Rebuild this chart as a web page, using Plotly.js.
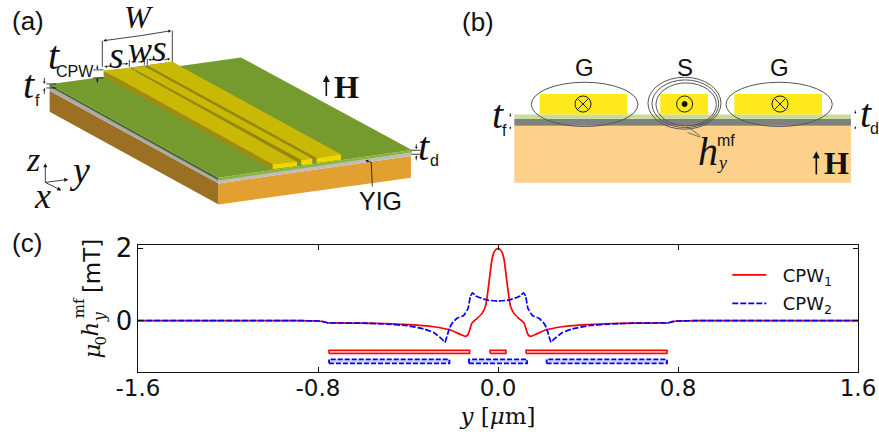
<!DOCTYPE html>
<html><head><meta charset="utf-8">
<script src="https://cdn.plot.ly/plotly-3.0.1.min.js"></script>
<style>html,body{margin:0;padding:0;background:#fff}#c{width:879px;height:435px}</style></head>
<body><div id="c"></div>
<script>
// ---- chart (c) data ----
const cpw1Y = [-1.6,-1.2,-0.9,-0.8,-0.775,-0.753,-0.73,-0.6,-0.508,-0.43,-0.36,-0.286,-0.212,-0.167,-0.145,-0.133,-0.126,-0.116,-0.093,-0.071,-0.056,-0.049,-0.034,-0.027,-0.019,-0.01,0,0.01,0.019,0.027,0.034,0.049,0.056,0.071,0.093,0.116,0.126,0.133,0.145,0.167,0.212,0.286,0.36,0.43,0.508,0.6,0.73,0.753,0.775,0.8,0.9,1.2,1.6];
const cpw1H = [0,0,0,-0.01,-0.03,-0.065,-0.065,-0.07,-0.08,-0.1,-0.125,-0.17,-0.26,-0.38,-0.435,-0.38,-0.26,-0.07,0.06,0.2,0.39,0.62,1.36,1.69,1.87,1.96,1.99,1.96,1.87,1.69,1.36,0.62,0.39,0.2,0.06,-0.07,-0.26,-0.38,-0.435,-0.38,-0.26,-0.17,-0.125,-0.1,-0.08,-0.07,-0.065,-0.065,-0.03,-0.01,0,0,0];
const cpw2Y = [-1.6,-1.2,-0.9,-0.8,-0.775,-0.753,-0.73,-0.6,-0.508,-0.404,-0.33,-0.286,-0.249,-0.236,-0.227,-0.216,-0.204,-0.182,-0.153,-0.133,-0.123,-0.113,-0.1,-0.049,0,0.049,0.1,0.113,0.123,0.133,0.153,0.182,0.204,0.216,0.227,0.236,0.249,0.286,0.33,0.404,0.508,0.6,0.73,0.753,0.775,0.8,0.9,1.2,1.6];
const cpw2H = [0,0,0,-0.01,-0.03,-0.065,-0.065,-0.07,-0.09,-0.14,-0.23,-0.33,-0.51,-0.6,-0.44,-0.21,-0.07,0.065,0.14,0.34,0.67,0.77,0.685,0.57,0.54,0.57,0.685,0.77,0.67,0.34,0.14,0.065,-0.07,-0.21,-0.44,-0.6,-0.51,-0.33,-0.23,-0.14,-0.09,-0.07,-0.065,-0.065,-0.03,-0.01,0,0,0];
// conductor cross sections: [start, end]
const cpw1Left = [-0.751,-0.035,0.125], cpw1Right = [-0.126,0.035,0.751], cpw1Low = -0.91, cpw1High = -0.82;
const cpw2Left = [-0.751,-0.129,0.216], cpw2Right = [-0.216,0.129,0.751], cpw2Low = -1.18, cpw2High = -1.07;
const xTicks = [-1.6,-0.8,0,0.8,1.6], xTickText = ['-1.6','-0.8','0.0','0.8','1.6'];
const yTicks = [0,2], yTickText = ['0','2'];

// ---- plot area in page pixels; schematics are positioned on the page ----
const L=137.7,R=857.7,T=245.3,B=371.7;
const px=x=>(x-L)/(R-L), py=y=>(B-y)/(B-T);
const shapes=[], notes=[];
function poly(pts,fill,line,w){
  const d='M'+pts.map(p=>px(p[0]).toFixed(5)+' '+py(p[1]).toFixed(5)).join('L')+'Z';
  shapes.push({type:'path',path:d,xref:'paper',yref:'paper',fillcolor:fill,line:{color:line||fill,width:line?(w||1):0}});
}
const z3=a=>a.map(p=>[p[0]/3,p[1]/3]);
function line(x0,y0,x1,y1,c,w){shapes.push({type:'line',xref:'paper',yref:'paper',x0:px(x0),y0:py(y0),x1:px(x1),y1:py(y1),line:{color:c||'#111',width:w||0.8}});}
function ell(x0,y0,x1,y1,c,w,f){shapes.push({type:'circle',xref:'paper',yref:'paper',x0:px(x0),y0:py(y0),x1:px(x1),y1:py(y1),fillcolor:f||'rgba(0,0,0,0)',line:{color:c,width:w||1}});}
function txt(x,y,t,size,fam,c,angle){notes.push({xref:'paper',yref:'paper',x:px(x),y:py(y),text:t,showarrow:false,xanchor:'center',yanchor:'middle',textangle:angle||0,font:{size:size,family:fam||'Liberation Sans',color:c||'#111'}});}
function arrow(x0,y0,x1,y1,w,h){
  w=w||0.8; h=h||3;
  const d=Math.hypot(x1-x0,y1-y0)||1, ux=(x1-x0)/d, uy=(y1-y0)/d;
  line(x0,y0,x1-ux*h*0.7,y1-uy*h*0.7,'#111',w);
  poly([[x1,y1],[x1-ux*h-uy*h*0.5,y1-uy*h+ux*h*0.5],[x1-ux*h+uy*h*0.5,y1-uy*h-ux*h*0.5]],'#111');
}
const SER='Liberation Serif', CM='DejaVu Serif';
const it=s=>'<i>'+s+'</i>', bd=s=>'<b>'+s+'</b>';

// ---- (a) perspective sketch ----
poly(z3([[148,275],[655,552],[655,615],[148,338]]),'#9c7022');
poly(z3([[655,552],[1232,470],[1232,535],[655,615]]),'#e2a030');
poly(z3([[148,262],[655,540],[655,552],[148,275]]),'#aaaaaa');
poly(z3([[655,540],[1235,460],[1232,470],[655,552]]),'#bdbdbd');
poly(z3([[148,256],[655,535],[655,543],[148,263]]),'#4e6b2a');
poly(z3([[655,535],[1235,452],[1235,460],[655,543]]),'#8ab43a');
poly(z3([[148,256],[722,176],[1235,452],[655,535]]),'#759a2e');
poly(z3([[310,215],[817,495],[817,510],[310,232]]),'#a08c12');
poly(z3([[385,207],[515,189],[1022,465],[890,487]]),'#94860f');
poly(z3([[310,215],[385,207],[890,487],[817,495]]),'#c9b904');
poly(z3([[393,206],[432,202],[936,478],[903,482]]),'#c9b904');
poly(z3([[441,199],[515,189],[1022,465],[949,476]]),'#c9b904');
poly(z3([[817,495],[890,487],[890,500],[817,510]]),'#efd800');
poly(z3([[903,482],[936,478],[936,495],[903,497]]),'#efd800');
poly(z3([[949,476],[1022,465],[1022,481],[949,491]]),'#efd800');
// dimension marks
line(102,68,102,42);line(172,63,172,32);
arrow(140,37,103,42);arrow(140,37,171,32);
line(129,68,129,61);line(144,66,144,60);line(147,66,147,60);
arrow(110,67,104,68,.8,2.5);arrow(122,65,128,65,.8,2.5);arrow(136,63,131,63,.8,2.5);arrow(138,63,143,63,.8,2.5);arrow(154,61,148,61,.8,2.5);arrow(164,61,170,60,.8,2.5);
line(93,71,103,71);line(93,79,103,79);arrow(97,66,97,71,.8,2.5);arrow(97,84,97,79,.8,2.5);
line(46,85,56,85);line(46,89,56,89);arrow(44,79,44,85,.8,2.5);arrow(44,95,44,89,.8,2.5);
line(411,151,420,151);line(411,155,420,155);arrow(416,145,416,150,.8,2.5);arrow(416,161,416,156,.8,2.5);
arrow(45,183,45,164,.8,4);arrow(45,183,68,180,.8,4);arrow(45,183,61,191,.8,4);
line(372,187,371,163);arrow(371,163,365,161,.8,3);
arrow(326,97,326,76,1.6,7);
txt(28,22,'(a)',26);txt(478,23,'(b)',26);txt(27,243,'(c)',26);
txt(139,18,it('W'),32,SER);
txt(116,56,it('s'),38,SER);txt(140,51,it('w'),36,SER);txt(159,49,it('s'),38,SER);
txt(54,57,it('t'),40,SER);txt(75,73,'CPW',16);
txt(29,86,it('t'),40,SER);txt(37,101,'f',16);
txt(424,147,it('t'),40,SER);txt(434,161,'d',16);
txt(33,160,it('z'),34,SER);txt(79,171,it('y'),38,SER);txt(42,197,it('x'),36,SER);
txt(380,202,'YIG',25);
txt(346,88,bd('H'),32,SER);

// ---- (b) cross section ----
const bx=x=>480+x/3, by=y=>40+y/3;
poly([[bx(102),by(260)],[bx(1112),by(260)],[bx(1112),by(430)],[bx(102),by(430)]],'#fdd08c');
poly([[bx(102),by(240)],[bx(1112),by(240)],[bx(1112),by(260)],[bx(102),by(260)]],'#808080');
poly([[bx(102),by(226)],[bx(1112),by(226)],[bx(1112),by(240)],[bx(102),by(240)]],'#c9dc9c');
[[178,440],[540,683],[762,1025]].forEach(r=>poly([[bx(r[0]),by(165)],[bx(r[1]),by(165)],[bx(r[1]),by(226)],[bx(r[0]),by(226)]],'#fde91c'));
ell(bx(153),by(130),bx(473),by(262),'#555');ell(bx(737),by(130),bx(1056),by(262),'#555');
ell(bx(503),by(115),bx(722),by(270),'#555');ell(bx(515),by(123),bx(715),by(265),'#555');ell(bx(527),by(132),bx(708),by(260),'#555');
[[582.7,105],[779.7,105]].forEach(c=>{ell(c[0]-8,c[1]-8,c[0]+8,c[1]+8,'#222',1);line(c[0]-5.6,c[1]-5.6,c[0]+5.6,c[1]+5.6,'#222',1);line(c[0]-5.6,c[1]+5.6,c[0]+5.6,c[1]-5.6,'#222',1);});
ell(676.3,97,692.3,113,'#222',1);ell(681.8,102.5,686.8,107.5,'#111',1,'#111');
line(bx(620),by(262),bx(660),by(290),'#555',.8);line(bx(622),by(280),bx(660),by(294),'#555',.8);
arrow(510,114,510,118,.7,2);arrow(510,130,510,127,.7,2);arrow(855,111,855,115,.7,2);arrow(855,130,855,127,.7,2);
arrow(816,175,816,152,1.6,7);
txt(584,69,'G',24);txt(685,69,'S',24);txt(779,69,'G',24);
txt(498,115,it('t'),40,SER);txt(504,131,'f',16);
txt(866,114,it('t'),40,SER);txt(874,129,'d',16);
txt(708,152,it('h'),40,SER);txt(722,164,it('y'),18,SER);txt(726,141,'mf',16);
txt(836,164,bd('H'),32,SER);

// ---- y axis label, stacked the way the figure sets it ----
txt(92,351,it('μ'),23,CM,null,-90);txt(101,340,'0',15,CM,null,-90);
txt(90,329,it('h'),23,CM,null,-90);txt(99,317,it('y'),16,CM,null,-90);
txt(79,308,'mf',15,CM,null,-90);
txt(91,266,'[mT]',23,'DejaVu Sans',null,-90);

// ---- traces ----
function rects(lefts,rights,lo,hi){
  const x=[],y=[];
  lefts.forEach((l,i)=>{x.push(l,rights[i],rights[i],l,l,null);y.push(lo,lo,hi,hi,lo,null);});
  return {x,y};
}
const r1=rects(cpw1Left,cpw1Right,cpw1Low,cpw1High), r2=rects(cpw2Left,cpw2Right,cpw2Low,cpw2High);
const traces=[
 {x:r1.x,y:r1.y,mode:'lines',fill:'toself',fillcolor:'rgba(255,90,90,0.4)',line:{color:'#ff0000',width:1.6},showlegend:false,hoverinfo:'skip'},
 {x:r2.x,y:r2.y,mode:'lines',fill:'toself',fillcolor:'rgba(120,120,255,0.3)',line:{color:'#0000ff',width:1.8,dash:'5px,2px'},showlegend:false,hoverinfo:'skip'},
 {x:cpw1Y,y:cpw1H,mode:'lines',name:'\u00a0\u00a0CPW<sub>1</sub>',legendgroup:'a',line:{color:'#ff0000',width:1.7,shape:'spline',smoothing:0.4}},
 {x:cpw2Y,y:cpw2H,mode:'lines',name:'\u00a0\u00a0CPW<sub>2</sub>',legendgroup:'b',line:{color:'#0000ff',width:1.7,dash:'6px,2px',shape:'spline',smoothing:0.4}}
];
const layout={
 width:879,height:435,paper_bgcolor:'#fff',plot_bgcolor:'#fff',
 margin:{l:L,r:879-R,t:T,b:435-B,pad:0},
 font:{family:'DejaVu Sans',color:'#111'},
 xaxis:{range:[-1.6,1.6],tickvals:xTicks,ticktext:xTickText,ticks:'inside',ticklen:5,tickcolor:'#111',tickwidth:1,mirror:'ticks',showline:true,linecolor:'#111',linewidth:1.4,showgrid:false,zeroline:false,tickfont:{size:23,family:'DejaVu Sans'},ticklabelstandoff:-5,
   title:{text:'<i>y</i> [<i>μ</i>m]',font:{size:23,family:'DejaVu Serif'},standoff:8}},
 yaxis:{range:[-1.42,2.09],tickvals:yTicks,ticktext:yTickText,ticks:'inside',ticklen:5,tickcolor:'#111',tickwidth:1,mirror:'ticks',showline:true,linecolor:'#111',linewidth:1.4,showgrid:false,zeroline:false,tickfont:{size:26,family:'DejaVu Sans'},ticklabelstandoff:-1},
 legend:{x:px(727),y:py(257),xanchor:'left',yanchor:'top',bgcolor:'rgba(0,0,0,0)',font:{size:18,family:'DejaVu Sans'},itemwidth:34,tracegroupgap:2},
 shapes:shapes,annotations:notes
};
Plotly.newPlot('c',traces,layout,{displayModeBar:false,staticPlot:true});
</script></body></html>
